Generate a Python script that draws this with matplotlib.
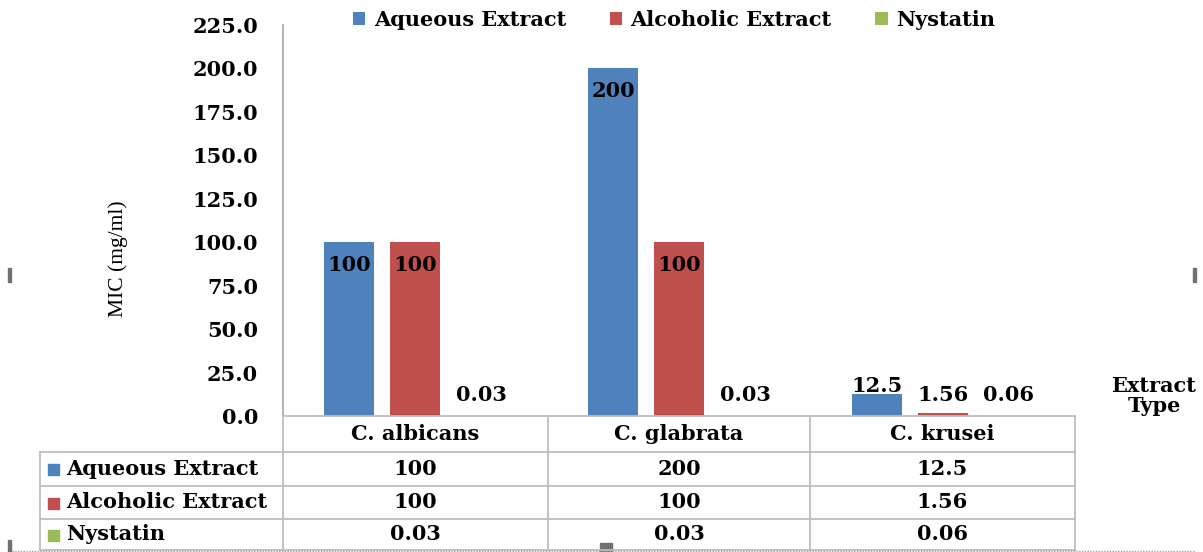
import numpy as np
import matplotlib
matplotlib.use("Agg")
import matplotlib.pyplot as plt
from matplotlib.lines import Line2D
from matplotlib.patches import Rectangle

# MIC values per species and treatment
species = ["C. albicans", "C. glabrata", "C. krusei"]
series_names = ["Aqueous Extract", "Alcoholic Extract", "Nystatin"]
aqueous = [100, 200, 12.5]
alcoholic = [100, 100, 1.56]
nystatin = [0.03, 0.03, 0.06]
value_text = [["100", "200", "12.5"],
              ["100", "100", "1.56"],
              ["0.03", "0.03", "0.06"]]
yticks = [0, 25, 50, 75, 100, 125, 150, 175, 200, 225]

colors = ["#4F81BD", "#C0504D", "#9BBB59"]
grid_col = "#BDBDBD"
fs = 15

plt.rcParams['font.family'] = ['DejaVu Serif']
plt.rcParams['font.weight'] = 'bold'

W, H = 1203, 552
fig = plt.figure(figsize=(W / 100, H / 100), dpi=100)

def fx(x):
    return x / W

def fy(y):
    return 1 - y / H

# plot area (pixel layout)
left, right, top, base = 283, 1075, 25, 416
ax = fig.add_axes([fx(left), fy(base), fx(right - left), (base - top) / H])

x = np.arange(len(species))
offsets = [-0.25, 0.0, 0.25]
width = 0.186
all_series = [aqueous, alcoholic, nystatin]
bars = []
for k, vals in enumerate(all_series):
    b = ax.bar(x + offsets[k], vals, width, color=colors[k], label=series_names[k])
    bars.append(b)
    for i, v in enumerate(vals):
        # big bars get the label inside the top, small ones just above
        if v > 50:
            ypos = v - 13
        else:
            ypos = max(v + 5, 12)
        ax.text(x[i] + offsets[k], ypos, value_text[k][i], ha='center', va='center',
                fontsize=fs, fontweight='bold')

ax.set_xlim(-0.5, 2.5)
ax.set_ylim(0, 225)
ax.set_yticks(yticks)
ax.set_yticklabels(["%.1f" % t for t in yticks], fontsize=fs, fontweight='bold')
ax.tick_params(axis='y', length=0, pad=18)
ax.set_xticks([])
for s in ["top", "right", "bottom"]:
    ax.spines[s].set_visible(False)
ax.spines["left"].set_color("#A6A6A6")
ax.spines["left"].set_linewidth(1.2)
ax.patch.set_alpha(0)

fig.text(fx(118), fy(259), "MIC (mg/ml)", rotation=90, ha='center', va='center',
         fontsize=15.5, fontweight='normal', family=['Liberation Serif'])
fig.text(fx(1154), fy(396), "Extract\nType", ha='center', va='center',
         fontsize=fs, fontweight='bold', linespacing=1.0)

fig.legend(handles=bars, labels=series_names, loc='center', ncol=3,
           bbox_to_anchor=(fx(674), fy(20)), frameon=False, fontsize=fs,
           handlelength=0.6, handleheight=0.6, handletextpad=0.4, columnspacing=2.1)

# data table under the axis
ov = fig.add_axes([0, 0, 1, 1])
ov.set_xlim(0, W)
ov.set_ylim(H, 0)
ov.axis('off')
ov.patch.set_alpha(0)

col_edges = [283, 548, 810, 1075]
row_edges = [416, 452, 486, 519, 550]
tl = 40
lw = 1.3
ov.add_line(Line2D([283, 1075], [416, 416], color=grid_col, lw=lw))
for y in row_edges[1:]:
    ov.add_line(Line2D([tl, 1075], [y, y], color=grid_col, lw=lw))
ov.add_line(Line2D([tl, tl], [452, 550], color=grid_col, lw=lw))
ov.add_line(Line2D([283, 283], [416, 550], color=grid_col, lw=lw))
for xe in col_edges[1:]:
    ov.add_line(Line2D([xe, xe], [416, 550], color=grid_col, lw=lw))

for i, name in enumerate(species):
    cx = (col_edges[i] + col_edges[i + 1]) / 2
    ov.text(cx, (row_edges[0] + row_edges[1]) / 2, name, ha='center', va='center',
            fontsize=fs, fontweight='bold')
for k in range(3):
    cy = (row_edges[k + 1] + row_edges[k + 2]) / 2
    ov.add_patch(Rectangle((48, cy - 5), 11, 11, color=colors[k]))
    ov.text(66, cy, series_names[k], ha='left', va='center', fontsize=fs, fontweight='bold')
    for i in range(3):
        cx = (col_edges[i] + col_edges[i + 1]) / 2
        ov.text(cx, cy, value_text[k][i], ha='center', va='center',
                fontsize=fs, fontweight='bold')

# frame border and handles
ov.add_line(Line2D([12, 1195], [551, 551], color="#A0A0A0", lw=1, ls=(0, (1, 1))))
ov.add_patch(Rectangle((8, 268), 3, 14, color="#707070"))
ov.add_patch(Rectangle((1193, 268), 3, 14, color="#707070"))
ov.add_patch(Rectangle((600, 543), 12, 9, color="#707070"))
ov.add_patch(Rectangle((8, 540), 3, 12, color="#707070"))

fig.savefig("out.png", dpi=100)
